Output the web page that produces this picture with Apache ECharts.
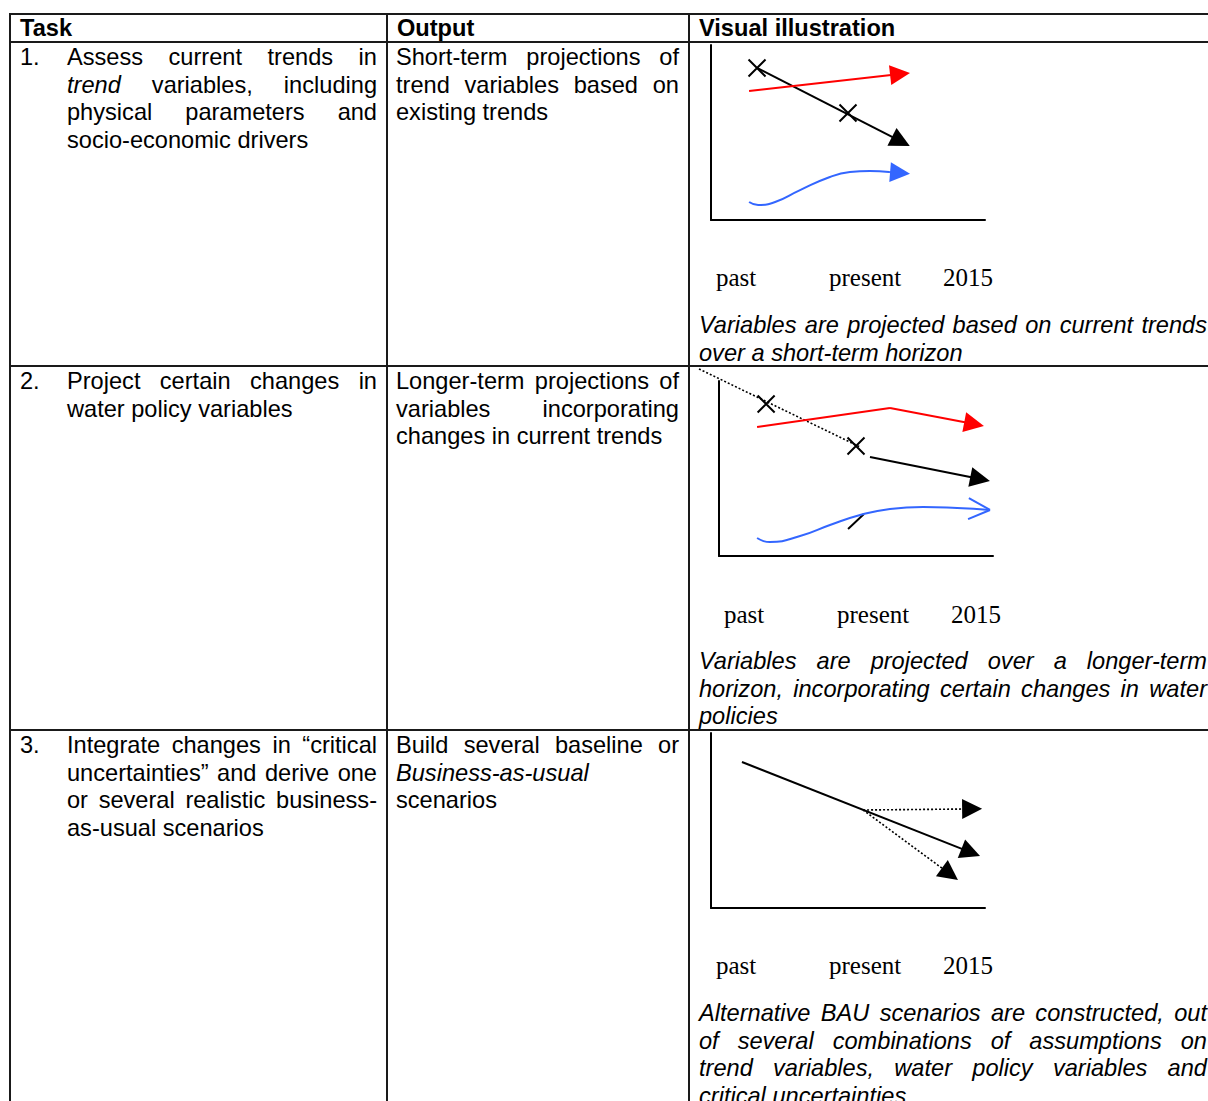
<!DOCTYPE html>
<html>
<head>
<meta charset="utf-8">
<script src="https://cdn.jsdelivr.net/npm/echarts@6/dist/echarts.min.js"></script>
<style>
  html, body { margin: 0; padding: 0; background: #fff; }
  body {
    width: 1208px; height: 1101px; overflow: hidden; position: relative;
    font-family: "Liberation Sans", Arial, sans-serif; font-size: 23.6px; line-height: 27.7px; color: #000;
  }
  .hl { position: absolute; left: 9px; width: 1210px; height: 2px; background: #1a1a1a; }
  .vl { position: absolute; top: 13px; width: 2px; height: 1100px; background: #1a1a1a; }
  .cell { position: absolute; }
  .j { text-align: justify; text-align-last: justify; }
  .hd { position: absolute; top: 15px; font-weight: bold; }
  .tm { position: absolute; font-family: "Liberation Serif", serif; font-size: 25px; line-height: 30px; }
  .cap { position: absolute; left: 699px; width: 508px; font-style: italic; }
  #chart { position: absolute; left: 0; top: 0; width: 1208px; height: 1101px; pointer-events: none; }
</style>
</head>
<body>
<!-- table rules -->
<div class="hl" style="top:13px"></div>
<div class="hl" style="top:41px"></div>
<div class="hl" style="top:365px"></div>
<div class="hl" style="top:729px"></div>
<div class="vl" style="left:9px"></div>
<div class="vl" style="left:386px"></div>
<div class="vl" style="left:688px"></div>

<!-- header -->
<div class="hd" style="left:20px">Task</div>
<div class="hd" style="left:397px">Output</div>
<div class="hd" style="left:699px">Visual illustration</div>

<!-- row 1 -->
<div class="cell" style="left:20px;top:44px">1.</div>
<div class="cell" style="left:67px;top:44px;width:310px">
  <div class="j">Assess current trends in</div>
  <div class="j"><i>trend</i> variables, including</div>
  <div class="j">physical parameters and</div>
  <div>socio-economic drivers</div>
</div>
<div class="cell" style="left:396px;top:44px;width:283px">
  <div class="j">Short-term projections of</div>
  <div class="j">trend variables based on</div>
  <div>existing trends</div>
</div>
<div class="tm" style="left:716px;top:263px">past</div>
<div class="tm" style="left:829px;top:263px">present</div>
<div class="tm" style="left:943px;top:263px">2015</div>
<div class="cap" style="top:312px">
  <div class="j">Variables are projected based on current trends</div>
  <div>over a short-term horizon</div>
</div>

<!-- row 2 -->
<div class="cell" style="left:20px;top:368px">2.</div>
<div class="cell" style="left:67px;top:368px;width:310px">
  <div class="j">Project certain changes in</div>
  <div>water policy variables</div>
</div>
<div class="cell" style="left:396px;top:368px;width:283px">
  <div class="j">Longer-term projections of</div>
  <div class="j">variables incorporating</div>
  <div>changes in current trends</div>
</div>
<div class="tm" style="left:724px;top:600px">past</div>
<div class="tm" style="left:837px;top:600px">present</div>
<div class="tm" style="left:951px;top:600px">2015</div>
<div class="cap" style="top:648px">
  <div class="j">Variables are projected over a longer-term</div>
  <div class="j">horizon, incorporating certain changes in water</div>
  <div>policies</div>
</div>

<!-- row 3 -->
<div class="cell" style="left:20px;top:732px">3.</div>
<div class="cell" style="left:67px;top:732px;width:310px">
  <div class="j">Integrate changes in “critical</div>
  <div class="j">uncertainties” and derive one</div>
  <div class="j">or several realistic business-</div>
  <div>as-usual scenarios</div>
</div>
<div class="cell" style="left:396px;top:732px;width:283px">
  <div class="j">Build several baseline or</div>
  <div><i>Business-as-usual</i></div>
  <div>scenarios</div>
</div>
<div class="tm" style="left:716px;top:951px">past</div>
<div class="tm" style="left:829px;top:951px">present</div>
<div class="tm" style="left:943px;top:951px">2015</div>
<div class="cap" style="top:1000px">
  <div class="j">Alternative BAU scenarios are constructed, out</div>
  <div class="j">of several combinations of assumptions on</div>
  <div class="j">trend variables, water policy variables and</div>
  <div>critical uncertainties</div>
</div>

<div id="chart"></div>

<script>
// every sketch uses the same scale: x 0-100 along time, y 0-100 value

// panel 1 - short-term projections
var p1Black = [[16.8, 86.9], [69.3, 44.9]];
var p1Crosses = [[16.8, 86.9], [50.0, 61.1]];
var p1Red = [[13.9, 73.7], [69.0, 83.4]];
var p1Blue = [[13.9, 10.3], [17.2, 8.6], [23.4, 10.3], [32.5, 17.1], [43.4, 24.6], [50.7, 27.4], [58.0, 28.0], [65.0, 27.4]];
var p1BlueHead = [[65.0, 27.4], [69.0, 26.9]];

// panel 2 - longer-term projections with policy changes
var p2Dotted = [[-7.3, 106.9], [51.5, 62.3]];
var p2Crosses = [[17.2, 86.9], [50.0, 62.9]];
var p2Black = [[55.1, 56.6], [95.3, 44.0]];
var p2Red = [[13.9, 73.7], [62.4, 84.6]];
var p2RedHead = [[62.4, 84.6], [93.1, 75.4]];
var p2Blue = [[13.9, 10.3], [18.6, 8.0], [29.6, 11.4], [40.5, 17.7], [51.5, 23.4], [62.4, 26.9], [74.5, 28.0], [86.9, 27.4], [98.9, 26.3]];
var p2BlueHead = [[[91.2, 33.1], [98.9, 26.3]], [[90.9, 21.1], [98.9, 26.3]]];
var p2Slash = [[47.1, 15.4], [52.9, 24.0]];

// panel 3 - alternative BAU scenarios
var p3Main = [[11.3, 83.4], [94.8, 31.8]];
var p3Flat = [[55.5, 56.0], [95.3, 56.6]];
var p3Steep = [[55.5, 56.0], [87.2, 19.4]];

var panels = [{ left: 711, top: 45 }, { left: 719, top: 381 }, { left: 711, top: 733 }];

function axis(i) {
  return {
    type: 'value', gridIndex: i, min: 0, max: 100,
    axisLine: { show: true, onZero: false, lineStyle: { color: '#000', width: 2 } },
    axisTick: { show: false }, axisLabel: { show: false }, splitLine: { show: false }
  };
}

function arrow(g, coords, color, dash) {
  return {
    type: 'lines', coordinateSystem: 'cartesian2d', xAxisIndex: g, yAxisIndex: g,
    clip: false, silent: true, symbol: ['none', 'triangle'], symbolSize: [0, 20],
    lineStyle: { color: color, width: dash ? 1.6 : 2, type: dash ? [2, 2] : 'solid', opacity: 1, curveness: 0 },
    data: [{ coords: coords }]
  };
}

function segs(g, list, color, dash) {
  return {
    type: 'lines', coordinateSystem: 'cartesian2d', xAxisIndex: g, yAxisIndex: g,
    clip: false, silent: true, symbol: 'none',
    lineStyle: { color: color, width: dash ? 1.6 : 2, type: dash ? [2, 2] : 'solid', opacity: 1, curveness: 0 },
    data: list.map(function (c) { return { coords: c }; })
  };
}

function curve(g, pts, color, smooth) {
  return {
    type: 'line', xAxisIndex: g, yAxisIndex: g, data: pts, smooth: smooth,
    showSymbol: false, silent: true, clip: false,
    lineStyle: { color: color, width: 2 }
  };
}

function crosses(g, pts) {
  return {
    type: 'scatter', xAxisIndex: g, yAxisIndex: g, data: pts, silent: true,
    symbol: 'path://M0,0L10,10M10,0L0,10', symbolSize: 17,
    itemStyle: { color: 'transparent', borderColor: '#000', borderWidth: 2, opacity: 1 }
  };
}

var chart = echarts.init(document.getElementById('chart'));
chart.setOption({
  animation: false,
  grid: panels.map(function (p) {
    return { left: p.left, top: p.top, width: 274, height: 175, containLabel: false, outerBoundsMode: 'none' };
  }),
  xAxis: [axis(0), axis(1), axis(2)],
  yAxis: [axis(0), axis(1), axis(2)],
  series: [
    arrow(0, p1Black, '#000'),
    crosses(0, p1Crosses),
    arrow(0, p1Red, '#ff0000'),
    curve(0, p1Blue, '#3366ff', true),
    arrow(0, p1BlueHead, '#3366ff'),

    segs(1, [p2Dotted], '#000', true),
    crosses(1, p2Crosses),
    arrow(1, p2Black, '#000'),
    curve(1, p2Red, '#ff0000', false),
    arrow(1, p2RedHead, '#ff0000'),
    curve(1, p2Blue, '#3366ff', true),
    segs(1, p2BlueHead, '#3366ff'),
    segs(1, [p2Slash], '#000'),

    arrow(2, p3Main, '#000'),
    arrow(2, p3Flat, '#000', true),
    arrow(2, p3Steep, '#000', true)
  ]
});
</script>
</body>
</html>
